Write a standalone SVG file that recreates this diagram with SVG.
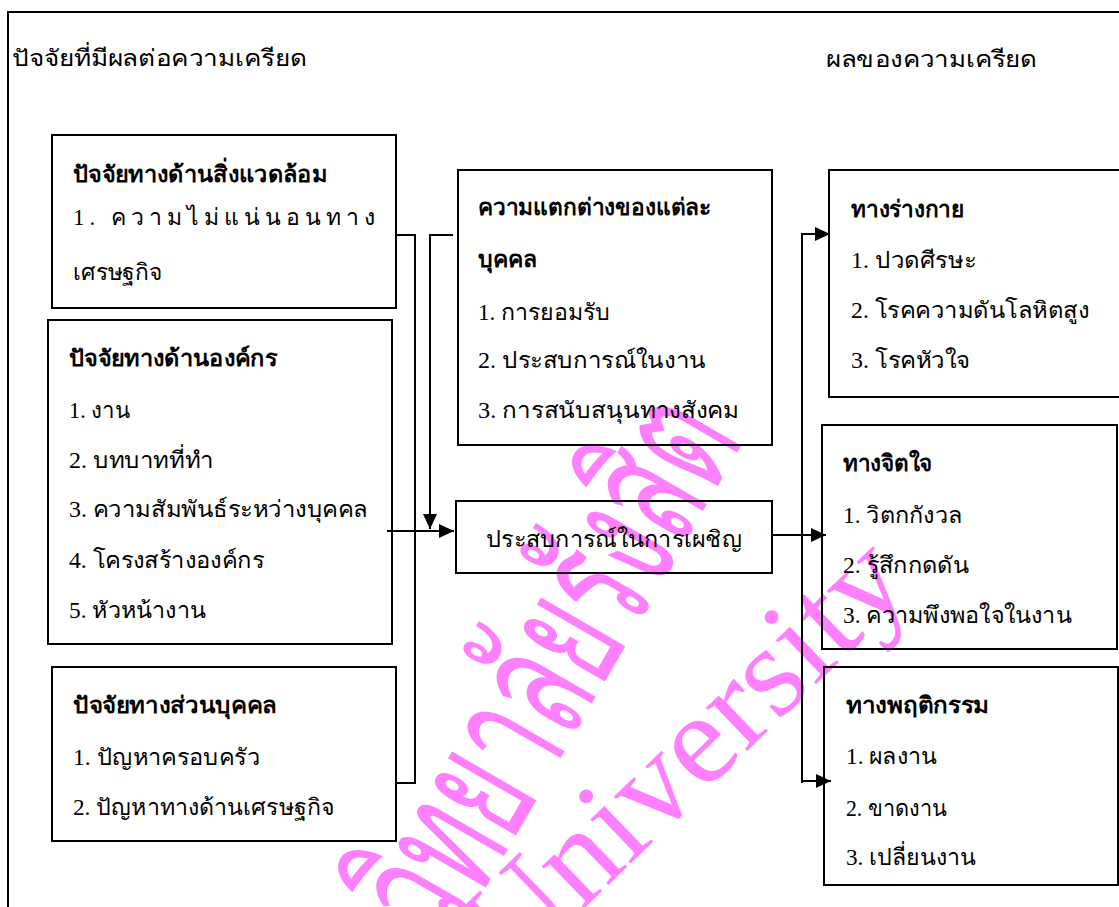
<svg xmlns="http://www.w3.org/2000/svg" width="1119" height="907" viewBox="0 0 1119 907">
<style>
.box{fill:none;stroke:#000;stroke-width:2}
.t{font-family:"Liberation Serif",serif;font-size:23px;fill:#000}
.b{font-weight:bold}
.c{fill:none;stroke:#000;stroke-width:2}
.wm{fill:#ff80ff}
</style>
<defs>
<marker id="ah" markerUnits="userSpaceOnUse" markerWidth="16" markerHeight="14" refX="15" refY="7" orient="auto">
<path d="M0,0 L15,7 L0,14 z" fill="#000"/>
</marker>
</defs>
<rect width="1119" height="907" fill="#fff"/>
<g id="watermark">
<text class="wm" transform="translate(450,950) rotate(-60)" font-family="Liberation Serif, serif" font-size="175" textLength="590" lengthAdjust="spacingAndGlyphs">วิทยาลัยรังสิต</text>
<text class="wm" transform="translate(512,978) rotate(-44)" font-family="Liberation Serif, serif" font-size="130" textLength="560" lengthAdjust="spacingAndGlyphs">University</text>
</g>
<rect id="frame" x="8" y="12" width="1120" height="900" class="box"/>
<g id="headings">
<text class="t" x="12" y="66" textLength="295" lengthAdjust="spacingAndGlyphs">ปัจจัยที่มีผลต่อความเครียด</text>
<text class="t" x="826" y="67" textLength="211" lengthAdjust="spacingAndGlyphs">ผลของความเครียด</text>
</g>
<g id="env">
<rect class="box" x="52" y="135" width="344" height="173"/>
<text class="t b" x="73" y="182" textLength="254" lengthAdjust="spacingAndGlyphs">ปัจจัยทางด้านสิ่งแวดล้อม</text>
<text class="t" x="73" y="225" textLength="302" lengthAdjust="spacing">1. ความไม่แน่นอนทาง</text>
<text class="t" x="73" y="280" textLength="89" lengthAdjust="spacingAndGlyphs">เศรษฐกิจ</text>
</g>
<g id="org">
<rect class="box" x="48" y="320" width="344" height="324"/>
<text class="t b" x="69" y="366" textLength="208" lengthAdjust="spacingAndGlyphs">ปัจจัยทางด้านองค์กร</text>
<text class="t" x="69" y="418" textLength="61" lengthAdjust="spacingAndGlyphs">1. งาน</text>
<text class="t" x="69" y="468" textLength="145" lengthAdjust="spacingAndGlyphs">2. บทบาทที่ทำ</text>
<text class="t" x="69" y="517" textLength="299" lengthAdjust="spacingAndGlyphs">3. ความสัมพันธ์ระหว่างบุคคล</text>
<text class="t" x="69" y="568" textLength="195" lengthAdjust="spacingAndGlyphs">4. โครงสร้างองค์กร</text>
<text class="t" x="69" y="618" textLength="137" lengthAdjust="spacingAndGlyphs">5. หัวหน้างาน</text>
</g>
<g id="personal">
<rect class="box" x="52" y="667" width="344" height="174"/>
<text class="t b" x="73" y="713" textLength="204" lengthAdjust="spacingAndGlyphs">ปัจจัยทางส่วนบุคคล</text>
<text class="t" x="73" y="765" textLength="187" lengthAdjust="spacingAndGlyphs">1. ปัญหาครอบครัว</text>
<text class="t" x="73" y="815" textLength="261" lengthAdjust="spacingAndGlyphs">2. ปัญหาทางด้านเศรษฐกิจ</text>
</g>
<g id="individual">
<rect class="box" x="458" y="170" width="314" height="275"/>
<text class="t b" x="478" y="215" textLength="233" lengthAdjust="spacingAndGlyphs">ความแตกต่างของแต่ละ</text>
<text class="t b" x="478" y="267" textLength="59" lengthAdjust="spacingAndGlyphs">บุคคล</text>
<text class="t" x="478" y="320" textLength="132" lengthAdjust="spacingAndGlyphs">1. การยอมรับ</text>
<text class="t" x="478" y="368" textLength="228" lengthAdjust="spacingAndGlyphs">2. ประสบการณ์ในงาน</text>
<text class="t" x="478" y="418" textLength="261" lengthAdjust="spacingAndGlyphs">3. การสนับสนุนทางสังคม</text>
</g>
<g id="coping">
<rect class="box" x="456" y="501" width="316" height="72"/>
<text class="t" x="486" y="547" textLength="256" lengthAdjust="spacingAndGlyphs">ประสบการณ์ในการเผชิญ</text>
</g>
<g id="physical">
<rect class="box" x="829" y="170" width="300" height="227"/>
<text class="t b" x="851" y="217" textLength="113" lengthAdjust="spacingAndGlyphs">ทางร่างกาย</text>
<text class="t" x="851" y="268" textLength="125" lengthAdjust="spacingAndGlyphs">1. ปวดศีรษะ</text>
<text class="t" x="851" y="318" textLength="238" lengthAdjust="spacingAndGlyphs">2. โรคความดันโลหิตสูง</text>
<text class="t" x="851" y="368" textLength="119" lengthAdjust="spacingAndGlyphs">3. โรคหัวใจ</text>
</g>
<g id="psych">
<rect class="box" x="822" y="425" width="295" height="224"/>
<text class="t b" x="843" y="471" textLength="89" lengthAdjust="spacingAndGlyphs">ทางจิตใจ</text>
<text class="t" x="843" y="523" textLength="119" lengthAdjust="spacingAndGlyphs">1. วิตกกังวล</text>
<text class="t" x="843" y="573" textLength="126" lengthAdjust="spacingAndGlyphs">2. รู้สึกกดดัน</text>
<text class="t" x="843" y="623" textLength="229" lengthAdjust="spacingAndGlyphs">3. ความพึงพอใจในงาน</text>
</g>
<g id="behavior">
<rect class="box" x="824" y="667" width="294" height="218"/>
<text class="t b" x="846" y="713" textLength="143" lengthAdjust="spacingAndGlyphs">ทางพฤติกรรม</text>
<text class="t" x="846" y="764" textLength="91" lengthAdjust="spacingAndGlyphs">1. ผลงาน</text>
<text class="t" x="846" y="816" textLength="101" lengthAdjust="spacingAndGlyphs">2. ขาดงาน</text>
<text class="t" x="846" y="865" textLength="130" lengthAdjust="spacingAndGlyphs">3. เปลี่ยนงาน</text>
</g>
<g id="connectors">
<path class="c" d="M396,235 H415 V783 H396"/>
<path class="c" d="M453,235 H430 V529" marker-end="url(#ah)"/>
<path class="c" d="M387,531 H454" marker-end="url(#ah)"/>
<path class="c" d="M772,535 H826" marker-end="url(#ah)"/>
<path class="c" d="M802,783 V234 H830" marker-end="url(#ah)"/>
<path class="c" d="M802,781 H831" marker-end="url(#ah)"/>
</g>
</svg>
